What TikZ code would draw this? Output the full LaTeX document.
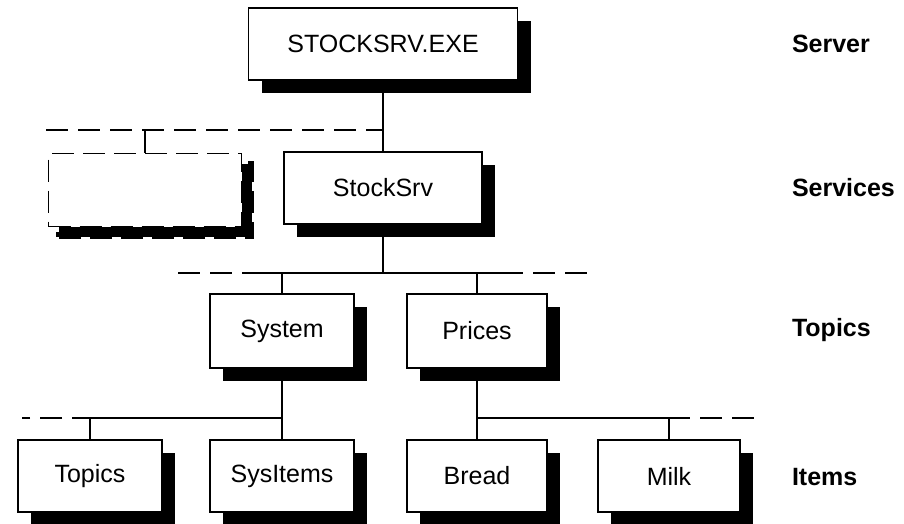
\documentclass[tikz,border=0pt]{standalone}
\usepackage{fontspec}
\setmainfont{Liberation Sans}
\usetikzlibrary{positioning,shadows}

\begin{document}
\begin{tikzpicture}[
  x=1pt, y=-1pt,
  line width=1.4pt,
  font=\fontsize{25}{29}\selectfont,
  box/.style={rectangle,draw,fill=white,inner sep=0pt,minimum height=72pt,
    drop shadow={shadow xshift=13pt,shadow yshift=-13pt,fill=black,opacity=1}},
  ghost/.style={rectangle,draw,dash pattern=on 22pt off 9pt,fill=white,inner sep=0pt,minimum height=73pt,
    drop shadow={shadow xshift=10pt,shadow yshift=-10pt,fill=black,draw=black,
      line width=5pt,dash pattern=on 22pt off 9pt,opacity=1}},
  lvl/.style={anchor=west,font=\fontsize{25}{30}\selectfont\bfseries},
  lvlline/.style={dash pattern=on 22pt off 10pt},
]
\useasboundingbox (0,0) rectangle (904,524);

\node[box,minimum width=269pt] (srv) at (383,44) {STOCKSRV.EXE};
\node[ghost,minimum width=193pt] (dummy) at (145,190) {};
\node[box,minimum width=198pt] (svc) at (383,188) {StockSrv};
\node[box,minimum width=144pt,minimum height=74pt] (sys) at (282,331) {System};
\node[box,minimum width=140pt,minimum height=74pt] (prc) at (477,331) {Prices};
\node[box,minimum width=144pt] (tpc) at (90,476) {Topics};
\node[box,minimum width=144pt] (sysi) at (282,476) {SysItems};
\node[box,minimum width=140pt] (brd) at (477,476) {Bread};
\node[box,minimum width=142pt] (milk) at (669,476) {Milk};

\node[lvl] (lsrv) at (788,44) {Server};
\node[lvl] (lsvc) at (788,188) {Services};
\node[lvl] (ltpc) at (788,330) {Topics};
\node[lvl] (litm) at (788,477) {Items};

\coordinate (svcL) at (46,130);
\coordinate (topL) at (178,273);
\coordinate (topA) at (243,273);
\coordinate (topB) at (523,273);
\coordinate (topR) at (588,273);
\coordinate (itmL) at (22,418);
\coordinate (itmA) at (72,418);
\coordinate (itmB) at (690,418);
\coordinate (itmR) at (757,418);

% services level
\draw (srv) -- (svc);
\draw[lvlline] (svcL) -- (srv.south |- svcL);
\draw (dummy.north) -- (dummy.north |- svcL);

% topics level
\draw (svc.south) -- (svc.south |- topL);
\draw[lvlline] (topL) -- (topA);
\draw (topA) -- (topB);
\draw[lvlline,dash phase=22pt] (topB) -- (topR);
\draw (sys.north) -- (sys.north |- topL);
\draw (prc.north) -- (prc.north |- topL);

% items level
\draw (sys) -- (sysi);
\draw (prc) -- (brd);
\draw[lvlline,dash phase=22pt] (itmA) -- (itmL);
\draw (itmA) -- (sys.south |- itmA);
\draw (prc.south |- itmA) -- (itmB);
\draw[lvlline,dash phase=22pt] (itmB) -- (itmR);
\draw (tpc.north) -- (tpc.north |- itmA);
\draw (milk.north) -- (milk.north |- itmA);
\end{tikzpicture}
\end{document}
